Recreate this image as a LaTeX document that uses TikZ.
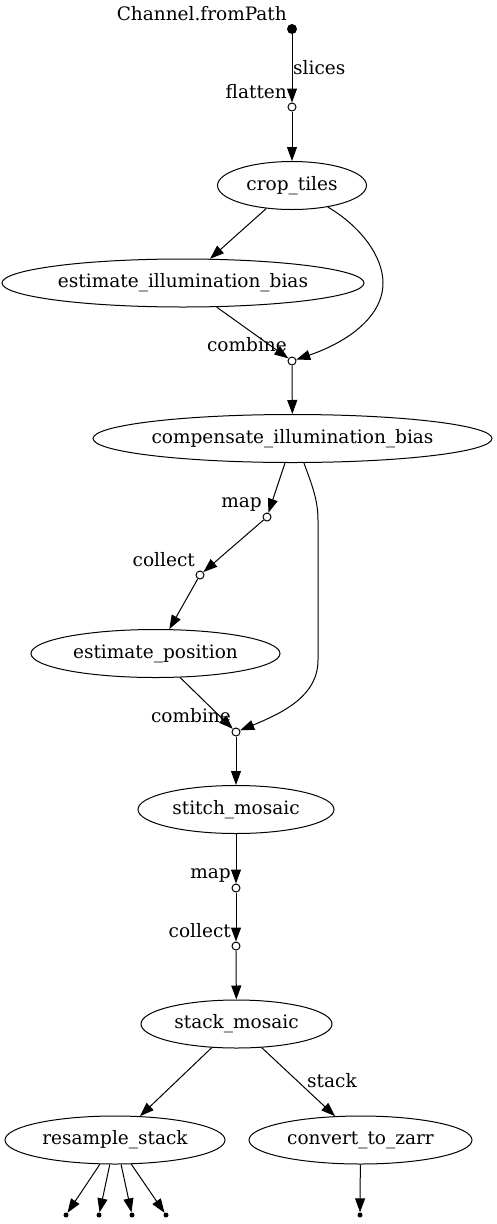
\documentclass[tikz,border=0pt]{standalone}
\usepackage{fontspec}
\setmainfont{DejaVu Serif}
\usetikzlibrary{arrows.meta,shapes.geometric}
\tikzset{
  proc/.style={draw, ellipse, inner sep=0pt, minimum height=48pt, line width=1pt},
  ptnode/.style={draw, circle, fill=white, inner sep=0pt, minimum size=8pt, line width=1pt},
  srcnode/.style={circle, fill=black, inner sep=0pt, minimum size=10pt},
  leafnode/.style={circle, fill=black, inner sep=0pt, minimum size=5pt},
  lbl/.style={inner sep=0pt},
  edge/.style={-{Triangle[length=14pt,width=10pt]}, line width=1pt}
}
\begin{document}
\begin{tikzpicture}[x=1pt,y=-1pt,font=\fontsize{18.5}{20}\selectfont]
\useasboundingbox (0,0) rectangle (497,1224);
% nodes
\node[srcnode] (src) at (292,29) {};
\node[ptnode] (flat) at (292,107) {};
\node[proc, minimum width=149pt] (crop) at (292,185.5) {crop\_tiles};
\node[proc, minimum width=362pt] (eib) at (183,283) {estimate\_illumination\_bias};
\node[ptnode] (comb1) at (292,361) {};
\node[proc, minimum width=399pt] (cib) at (292.5,438.5) {compensate\_illumination\_bias};
\node[ptnode] (map1) at (267,517) {};
\node[ptnode] (coll1) at (200,575) {};
\node[proc, minimum width=249pt] (epos) at (155.5,653.5) {estimate\_position};
\node[ptnode] (comb2) at (236,732) {};
\node[proc, minimum width=196pt] (stitch) at (236,809.5) {stitch\_mosaic};
\node[ptnode] (map2) at (236,888) {};
\node[ptnode] (coll2) at (236,946) {};
\node[proc, minimum width=191pt] (stack) at (236.5,1024) {stack\_mosaic};
\node[proc, minimum width=220pt] (resamp) at (115,1140) {resample\_stack};
\node[proc, minimum width=223pt] (zarr) at (360.5,1140) {convert\_to\_zarr};
\node[leafnode] (out1) at (66,1215) {};
\node[leafnode] (out2) at (99,1215) {};
\node[leafnode] (out3) at (132,1215) {};
\node[leafnode] (out4) at (166,1215) {};
\node[leafnode] (out5) at (360,1215) {};
% labels
\node[lbl, anchor=base east] (srclbl) at (287,20) {Channel.fromPath};
\node[lbl, anchor=base west] (sliceslbl) at (293,74) {slices};
\node[lbl, anchor=base east] (flatlbl) at (287,98) {flatten};
\node[lbl, anchor=base east] (comb1lbl) at (287,351) {combine};
\node[lbl, anchor=base east] (map1lbl) at (262,507) {map};
\node[lbl, anchor=base east] (coll1lbl) at (195,566) {collect};
\node[lbl, anchor=base east] (comb2lbl) at (231,722) {combine};
\node[lbl, anchor=base east] (map2lbl) at (231,878) {map};
\node[lbl, anchor=base east] (coll2lbl) at (231,937) {collect};
\node[lbl, anchor=base west] (stacklbl) at (307,1087) {stack};
% edges
\draw[edge] (src) -- (flat);
\draw[edge] (flat) -- (crop);
\draw[edge] (crop) -- (eib);
\draw[edge] (crop.-31) .. controls (360,226) and (383,256) .. (383,283) .. controls (383,318) and (345,343) .. (comb1);
\draw[edge] (eib) -- (comb1);
\draw[edge] (comb1) -- (cib);
\draw[edge] (cib.-107) -- (map1);
\draw[edge] (map1) -- (coll1);
\draw[edge] (coll1) -- (epos);
\draw[edge] (cib.-65) .. controls (312,485) and (318,500) .. (318,520) -- (318,660) .. controls (318,695) and (285,712) .. (comb2);
\draw[edge] (epos) -- (comb2);
\draw[edge] (comb2) -- (stitch);
\draw[edge] (stitch) -- (map2);
\draw[edge] (map2) -- (coll2);
\draw[edge] (coll2) -- (stack);
\draw[edge] (stack) -- (resamp);
\draw[edge] (stack) -- (zarr);
\draw[edge] (resamp.-122) -- (out1);
\draw[edge] (resamp.-102) -- (out2);
\draw[edge] (resamp.-76) -- (out3);
\draw[edge] (resamp.-56) -- (out4);
\draw[edge] (zarr) -- (out5);
\end{tikzpicture}
\end{document}
